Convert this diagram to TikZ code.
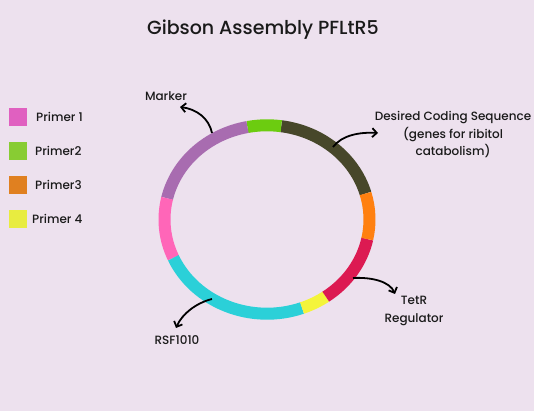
\documentclass[tikz,border=0pt]{standalone}
\usepackage{fontspec}
\setmainfont{Poppins}[UprightFont={* Medium}]
\usetikzlibrary{arrows.meta}
\definecolor{bgc}{HTML}{EDE1EE}
\definecolor{segolive}{HTML}{47472A}
\definecolor{seggreen}{HTML}{6CCC10}
\definecolor{segpurple}{HTML}{A86CB0}
\definecolor{segpink}{HTML}{FF66B8}
\definecolor{segcyan}{HTML}{2BD0D8}
\definecolor{segyellow}{HTML}{F4F43A}
\definecolor{segcrimson}{HTML}{DC1A52}
\definecolor{segorange}{HTML}{FF8010}
\definecolor{legpink}{HTML}{E060C0}
\definecolor{leggreen}{HTML}{88CC33}
\definecolor{legorange}{HTML}{E08020}
\definecolor{legyellow}{HTML}{E8EC40}
\definecolor{txt}{HTML}{1A1A1A}
\begin{document}
\begin{tikzpicture}[x=1pt,y=1pt,
  seg/.style={line width=12pt},
  legbox/.style={minimum width=18pt,minimum height=18pt,inner sep=0pt,draw=none},
  legtext/.style={anchor=west,font=\fontsize{12}{14}\selectfont,text=txt,inner sep=0pt},
  lbl/.style={font=\fontsize{12}{17.5}\selectfont,text=txt,align=center,inner sep=0pt},
  callout/.style={line width=1.8pt,-{Straight Barb[length=4.5pt,width=9pt,line width=1.8pt]}}]
\fill[bgc] (0,0) rectangle (534,411);
\useasboundingbox (0,0) rectangle (534,411);
% title
\node[font=\fontsize{19}{22}\selectfont,text=txt] (title) at (263,381) {Gibson Assembly PFLtR5};
% ring segments (ellipse centre (267,191.5))
\def\cx{267}\def\cy{191.5}\def\ra{102.5}\def\rb{94.2}
\foreach \a/\b/\c in {16/82/segolive, 82/101/seggreen, 101/167/segpurple, 167/204/segpink,
  204/290/segcyan, 290/305/segyellow, 305/348/segcrimson, 348/376/segorange}{
  \draw[seg,\c] ({\cx+\ra*cos(\a)},{\cy+\rb*sin(\a)}) arc[start angle=\a,end angle=\b,x radius=\ra,y radius=\rb];
}
% legend
\node[legbox,fill=legpink] (l1) at (17.5,294) {};
\node[legbox,fill=leggreen] (l2) at (17.5,260) {};
\node[legbox,fill=legorange] (l3) at (17.5,226) {};
\node[legbox,fill=legyellow] (l4) at (17.5,192) {};
\node[legtext] (t1) at (36,294) {Primer 1};
\node[legtext] (t2) at (35,260) {Primer2};
\node[legtext] (t3) at (35,226) {Primer3};
\node[legtext] (t4) at (32,192) {Primer 4};
% labels
\node[lbl] (marker) at (166,315) {Marker};
\node[lbl] (dcs) at (453,276) {Desired Coding Sequence\\(genes for ribitol\\catabolism)};
\node[lbl] (tetr) at (414,100) {TetR\\Regulator};
\node[lbl] (rsf) at (177,71) {RSF1010};
% callout coordinates
\coordinate (mA) at (212,278); \coordinate (mB) at (180,304);
\coordinate (dA) at (333,264); \coordinate (dB) at (378,278);
\coordinate (tA) at (353,133); \coordinate (tB) at (395,117);
\coordinate (rA) at (212,112); \coordinate (rB) at (176,83);
\draw[callout] (mA) .. controls (209,293) and (196,302) .. (mB);
\draw[callout] (dA) .. controls (342,276) and (360,279) .. (dB);
\draw[callout] (tA) .. controls (373,134) and (390,129) .. (tB);
\draw[callout] (rA) .. controls (196,108) and (182,97) .. (rB);
\end{tikzpicture}
\end{document}
